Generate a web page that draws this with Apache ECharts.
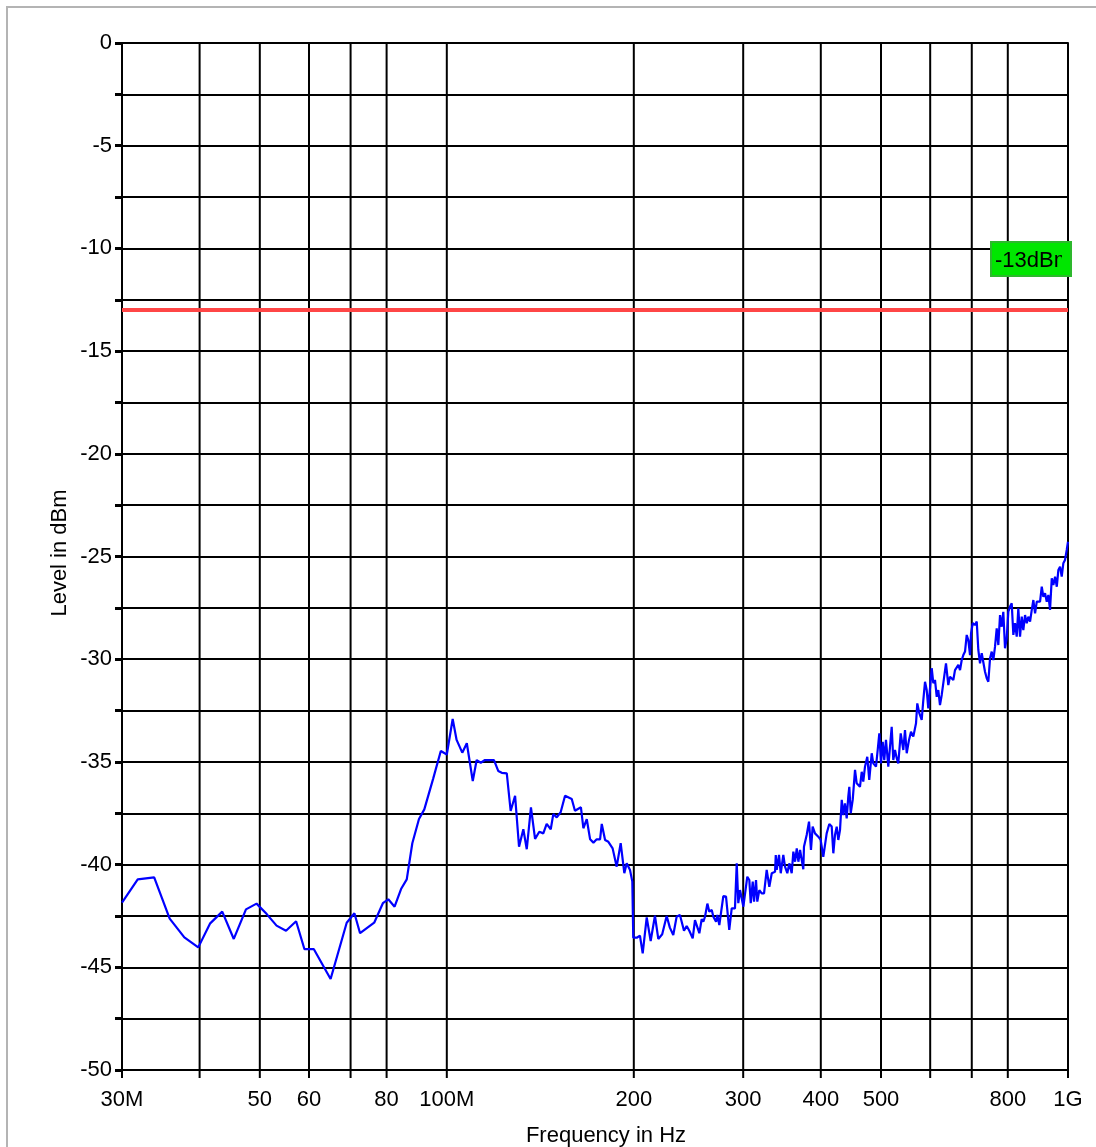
<!DOCTYPE html>
<html><head><meta charset="utf-8">
<script src="https://cdn.jsdelivr.net/npm/echarts@6/dist/echarts.min.js"></script>
<style>html,body{margin:0;padding:0;background:#fff}#c{width:1096px;height:1147px}</style>
</head><body><div id="c"></div>
<script>
// Frequency in MHz
const freqMHz = [
30.0,31.8,33.8,35.8,37.8,39.8,41.6,43.5,45.4,47.5,49.4,51.3,53.2,55.1,57.2,59.0,61.1,65.0,69.0,71.0,72.5,76.4,78.9,80.5,82.4,84.4,86.2,88.0,90.2,92.0,95.1,97.8,
100.0,102.2,103.7,105.9,107.7,110.1,111.7,113.4,115.2,119.1,121.0,122.6,124.9,126.7,128.8,130.7,132.8,134.5,136.6,138.7,140.9,143.0,144.8,147.0,148.4,150.3,152.5,155.0,158.9,160.8,164.4,165.9,168.0,170.1,172.2,174.3,176.5,177.6,179.8,182.0,184.9,187.7,190.5,193.1,194.8,197.2,198.9,199.6,
202.2,204.6,206.7,209.8,212.9,216.3,219.0,222.2,225.9,228.6,231.5,234.4,237.3,240.9,243.3,245.7,248.8,250.9,252.5,255.0,257.2,258.8,260.4,262.7,264.6,267.0,268.6,271.3,272.6,274.6,276.0,278.7,281.5,282.8,284.9,287.5,291.0,292.9,294.6,296.5,
300.2,302.0,304.6,306.9,308.5,310.8,312.3,314.6,316.1,318.5,321.3,324.1,327.3,329.3,330.5,333.5,337.6,338.5,339.7,342.6,344.8,348.1,350.3,353.3,355.9,359.1,361.3,363.6,365.9,368.1,370.4,372.7,374.9,375.8,379.6,382.9,385.7,388.1,391.5,396.3,399.8,
403.7,408.8,412.8,416.5,419.0,421.6,424.3,426.8,429.5,432.3,434.8,437.5,440.3,442.9,444.6,446.9,450.2,454.1,456.9,459.6,462.5,465.5,468.2,471.2,475.2,478.7,483.1,485.9,490.8,493.9,496.9,
500.0,503.2,506.1,509.3,513.7,517.0,520.2,523.3,526.6,530.0,533.1,537.9,543.1,546.5,550.0,554.7,558.8,563.6,569.3,572.0,576.3,581.4,584.9,588.6,592.3,595.8,599.6,
603.4,607.0,610.8,614.7,618.3,622.2,626.2,629.9,636.2,641.7,645.7,649.8,653.7,657.8,662.0,666.0,670.2,674.4,678.4,682.7,687.0,691.1,695.5,698.1,
702.5,708.5,713.0,717.2,721.7,726.3,730.6,735.2,739.9,744.3,749.0,753.7,758.2,763.0,767.8,772.4,777.3,782.2,786.8,791.8,796.8,
801.6,806.6,811.7,816.6,821.7,826.9,831.8,837.1,842.4,847.4,852.8,858.2,863.3,868.8,874.3,879.5,885.1,890.7,901.6,907.3,912.7,918.5,924.3,929.8,935.6,941.6,947.2,953.2,959.3,964.9,971.0,977.0,982.8,989.0,995.3,1000.0
];
// Level in dBm
const levelDbm = [
-41.85,-40.72,-40.62,-42.63,-43.54,-44.03,-42.86,-42.29,-43.62,-42.18,-41.90,-42.41,-42.97,-43.22,-42.76,-44.12,-44.12,-45.57,-42.83,-42.37,-43.34,-42.83,-41.88,-41.69,-42.05,-41.19,-40.72,-38.96,-37.78,-37.31,-35.80,-34.47,
-34.64,-32.91,-33.93,-34.55,-34.09,-35.93,-34.91,-35.04,-34.91,-34.91,-35.44,-35.53,-35.56,-37.39,-36.65,-39.13,-38.28,-39.25,-37.21,-38.75,-38.40,-38.48,-38.02,-38.28,-37.54,-37.70,-37.45,-36.65,-36.81,-37.38,-37.21,-38.23,-37.79,-38.77,-38.93,-38.77,-38.77,-38.02,-38.80,-38.89,-39.21,-40.10,-38.96,-40.42,-39.94,-40.26,-40.83,-43.56,
-43.56,-43.46,-44.32,-42.57,-43.72,-42.49,-43.62,-43.39,-42.50,-43.07,-43.43,-42.54,-42.45,-43.22,-42.99,-43.22,-43.59,-42.70,-42.66,-43.34,-42.66,-42.78,-42.54,-41.90,-42.29,-42.21,-42.54,-42.78,-42.45,-42.94,-42.91,-41.53,-41.56,-41.59,-43.18,-42.13,-42.13,-39.94,-41.88,-41.24,
-42.05,-41.97,-40.59,-40.75,-41.88,-40.83,-41.80,-40.75,-41.80,-41.24,-41.40,-41.40,-40.26,-40.30,-41.08,-40.42,-40.35,-39.53,-40.26,-39.53,-40.42,-39.53,-40.10,-40.42,-39.94,-40.42,-39.37,-39.86,-39.21,-39.86,-39.29,-39.29,-40.23,-39.13,-38.56,-37.91,-39.29,-38.15,-38.48,-38.64,-38.80,
-39.62,-38.48,-38.02,-38.15,-39.45,-38.56,-38.15,-38.80,-38.32,-36.85,-37.59,-37.02,-37.75,-36.69,-36.21,-37.50,-36.85,-35.39,-36.04,-35.96,-36.21,-35.48,-35.96,-35.23,-34.75,-35.88,-34.58,-35.07,-35.23,-34.42,-33.61,
-35.07,-34.02,-34.91,-33.93,-35.23,-34.26,-33.29,-34.91,-34.42,-34.82,-35.07,-33.61,-34.42,-33.45,-34.58,-33.93,-33.53,-33.77,-33.12,-32.15,-32.63,-32.96,-31.99,-31.10,-31.50,-32.39,-31.42,
-30.44,-31.17,-31.01,-31.83,-31.50,-32.23,-31.74,-31.83,-30.20,-31.26,-30.85,-30.77,-31.01,-30.53,-30.44,-30.28,-30.53,-30.04,-29.80,-29.63,-28.82,-29.07,-29.80,-28.74,
-28.25,-28.33,-28.17,-29.55,-30.20,-29.71,-29.80,-30.61,-30.93,-31.10,-29.96,-29.63,-30.04,-29.39,-28.50,-29.31,-27.85,-28.42,-27.69,-29.47,-28.98,
-27.69,-27.44,-27.28,-28.82,-28.25,-28.90,-27.52,-28.90,-27.93,-28.58,-27.85,-28.25,-27.93,-28.17,-27.60,-27.12,-27.77,-27.20,-27.20,-26.47,-26.96,-26.79,-27.20,-26.87,-27.60,-26.06,-26.39,-25.98,-26.47,-25.66,-25.50,-25.98,-25.33,-25.17,-24.68,-24.28
];
// Vertical grid frequencies (MHz) and their tick labels
const gridFreqs = [30, 40, 50, 60, 70, 80, 100, 200, 300, 400, 500, 600, 700, 800, 1000];
const xTickLabels = ['30M', '', '50', '60', '', '80', '100M', '200', '300', '400', '500', '', '', '800', '1G'];
const limitDbm = -13;
const limitLabel = '-13dBm';
const yAxisName = 'Level in dBm';
const xAxisName = 'Frequency in Hz';

const FONT = '"Liberation Sans", Arial, Helvetica, sans-serif';
const FS = 22;
const chart = echarts.init(document.getElementById('c'), null, {renderer: 'canvas'});
const option = {
  animation: false,
  backgroundColor: '#ffffff',
  grid: {left: 122, right: 28, top: 43, bottom: 77, containLabel: false, outerBoundsMode: 'none'},
  xAxis: {
    type: 'log', logBase: 10, min: 30, max: 1000,
    axisLine: {show: true, lineStyle: {color: '#000', width: 2}},
    axisTick: {show: false}, axisLabel: {show: false}, splitLine: {show: false},
    minorTick: {show: false}, minorSplitLine: {show: false}
  },
  yAxis: {
    type: 'value', min: -50, max: 0, interval: 2.5,
    axisLine: {show: true, lineStyle: {color: '#000', width: 2}},
    axisTick: {show: true, length: 7, lineStyle: {color: '#000', width: 3}},
    axisLabel: {
      margin: 10, fontSize: FS, color: '#000', fontFamily: FONT,
      formatter: v => (Math.abs(v % 5) < 1e-9 ? String(v) : '')
    },
    splitLine: {show: true, lineStyle: {color: '#000', width: 2}}
  },
  series: [
    {
      type: 'custom', z: 1, silent: true,
      data: gridFreqs.map(f => [f, -50]),
      renderItem: (params, api) => {
        const f = api.value(0);
        const top = api.coord([f, 0]);
        const bot = api.coord([f, -50]);
        return {
          type: 'group',
          children: [
            {type: 'line', shape: {x1: top[0], y1: top[1], x2: bot[0], y2: bot[1] + 8},
             style: {stroke: '#000', lineWidth: 2}},
            {type: 'text', x: bot[0], y: bot[1] + 30,
             style: {text: xTickLabels[params.dataIndex], fill: '#000', fontSize: FS, fontFamily: FONT,
                     align: 'center', verticalAlign: 'middle', textAlign: 'center', textVerticalAlign: 'middle'}}
          ]
        };
      }
    },
    {
      type: 'line', z: 3, silent: true,
      data: freqMHz.map((f, i) => [f, levelDbm[i]]),
      showSymbol: false, symbol: 'none',
      lineStyle: {color: '#0000ff', width: 2.2},
      itemStyle: {color: '#0000ff'},
      markLine: {
        silent: true, symbol: ['none', 'none'], animation: false,
        lineStyle: {color: '#ff4646', width: 4, type: 'solid'},
        label: {show: false},
        emphasis: {disabled: true},
        data: [{yAxis: limitDbm}]
      }
    }
  ]
};
chart.setOption(option);

// Limit label box, anchored to the -13 dBm line and the right end of the axis via the chart's scales
const ly = chart.convertToPixel({yAxisIndex: 0}, limitDbm);
const rx = chart.convertToPixel({xAxisIndex: 0}, gridFreqs[gridFreqs.length - 1]);
const bw = 80, bh = 34, bx = rx + 3 - bw, by = ly - 34 - bh;
chart.setOption({
  graphic: [
    {id: 'frame', type: 'rect', silent: true, shape: {x: 7, y: 7, width: 1300, height: 1300},
     style: {fill: 'none', stroke: '#b4b4b4', lineWidth: 2}},
    {id: 'yname', type: 'text', x: 60, y: 553, rotation: Math.PI / 2,
     style: {text: yAxisName, fill: '#000', fontSize: FS, fontFamily: FONT, align: 'center', verticalAlign: 'middle'}},
    {id: 'xname', type: 'text', x: 606, y: 1136,
     style: {text: xAxisName, fill: '#000', fontSize: FS, fontFamily: FONT, align: 'center', verticalAlign: 'middle'}},
    {id: 'boxFill', type: 'rect', silent: true, z: 50, shape: {x: bx, y: by, width: bw, height: bh},
     style: {fill: '#00e600'}},
    {id: 'boxText', type: 'text', silent: true, z: 51, x: bx + 4, y: by + bh / 2 + 2,
     style: {text: limitLabel, fill: '#000', fontSize: FS, fontFamily: FONT, align: 'left', verticalAlign: 'middle'}},
    {id: 'boxClip', type: 'rect', silent: true, z: 52, shape: {x: bx + bw - 9, y: by, width: 9, height: bh},
     style: {fill: '#00e600'}},
    {id: 'boxBorder', type: 'rect', silent: true, z: 53, shape: {x: bx, y: by, width: bw, height: bh},
     style: {fill: 'none', stroke: '#2db82d', lineWidth: 2}}
  ]
});
</script>
</body></html>
